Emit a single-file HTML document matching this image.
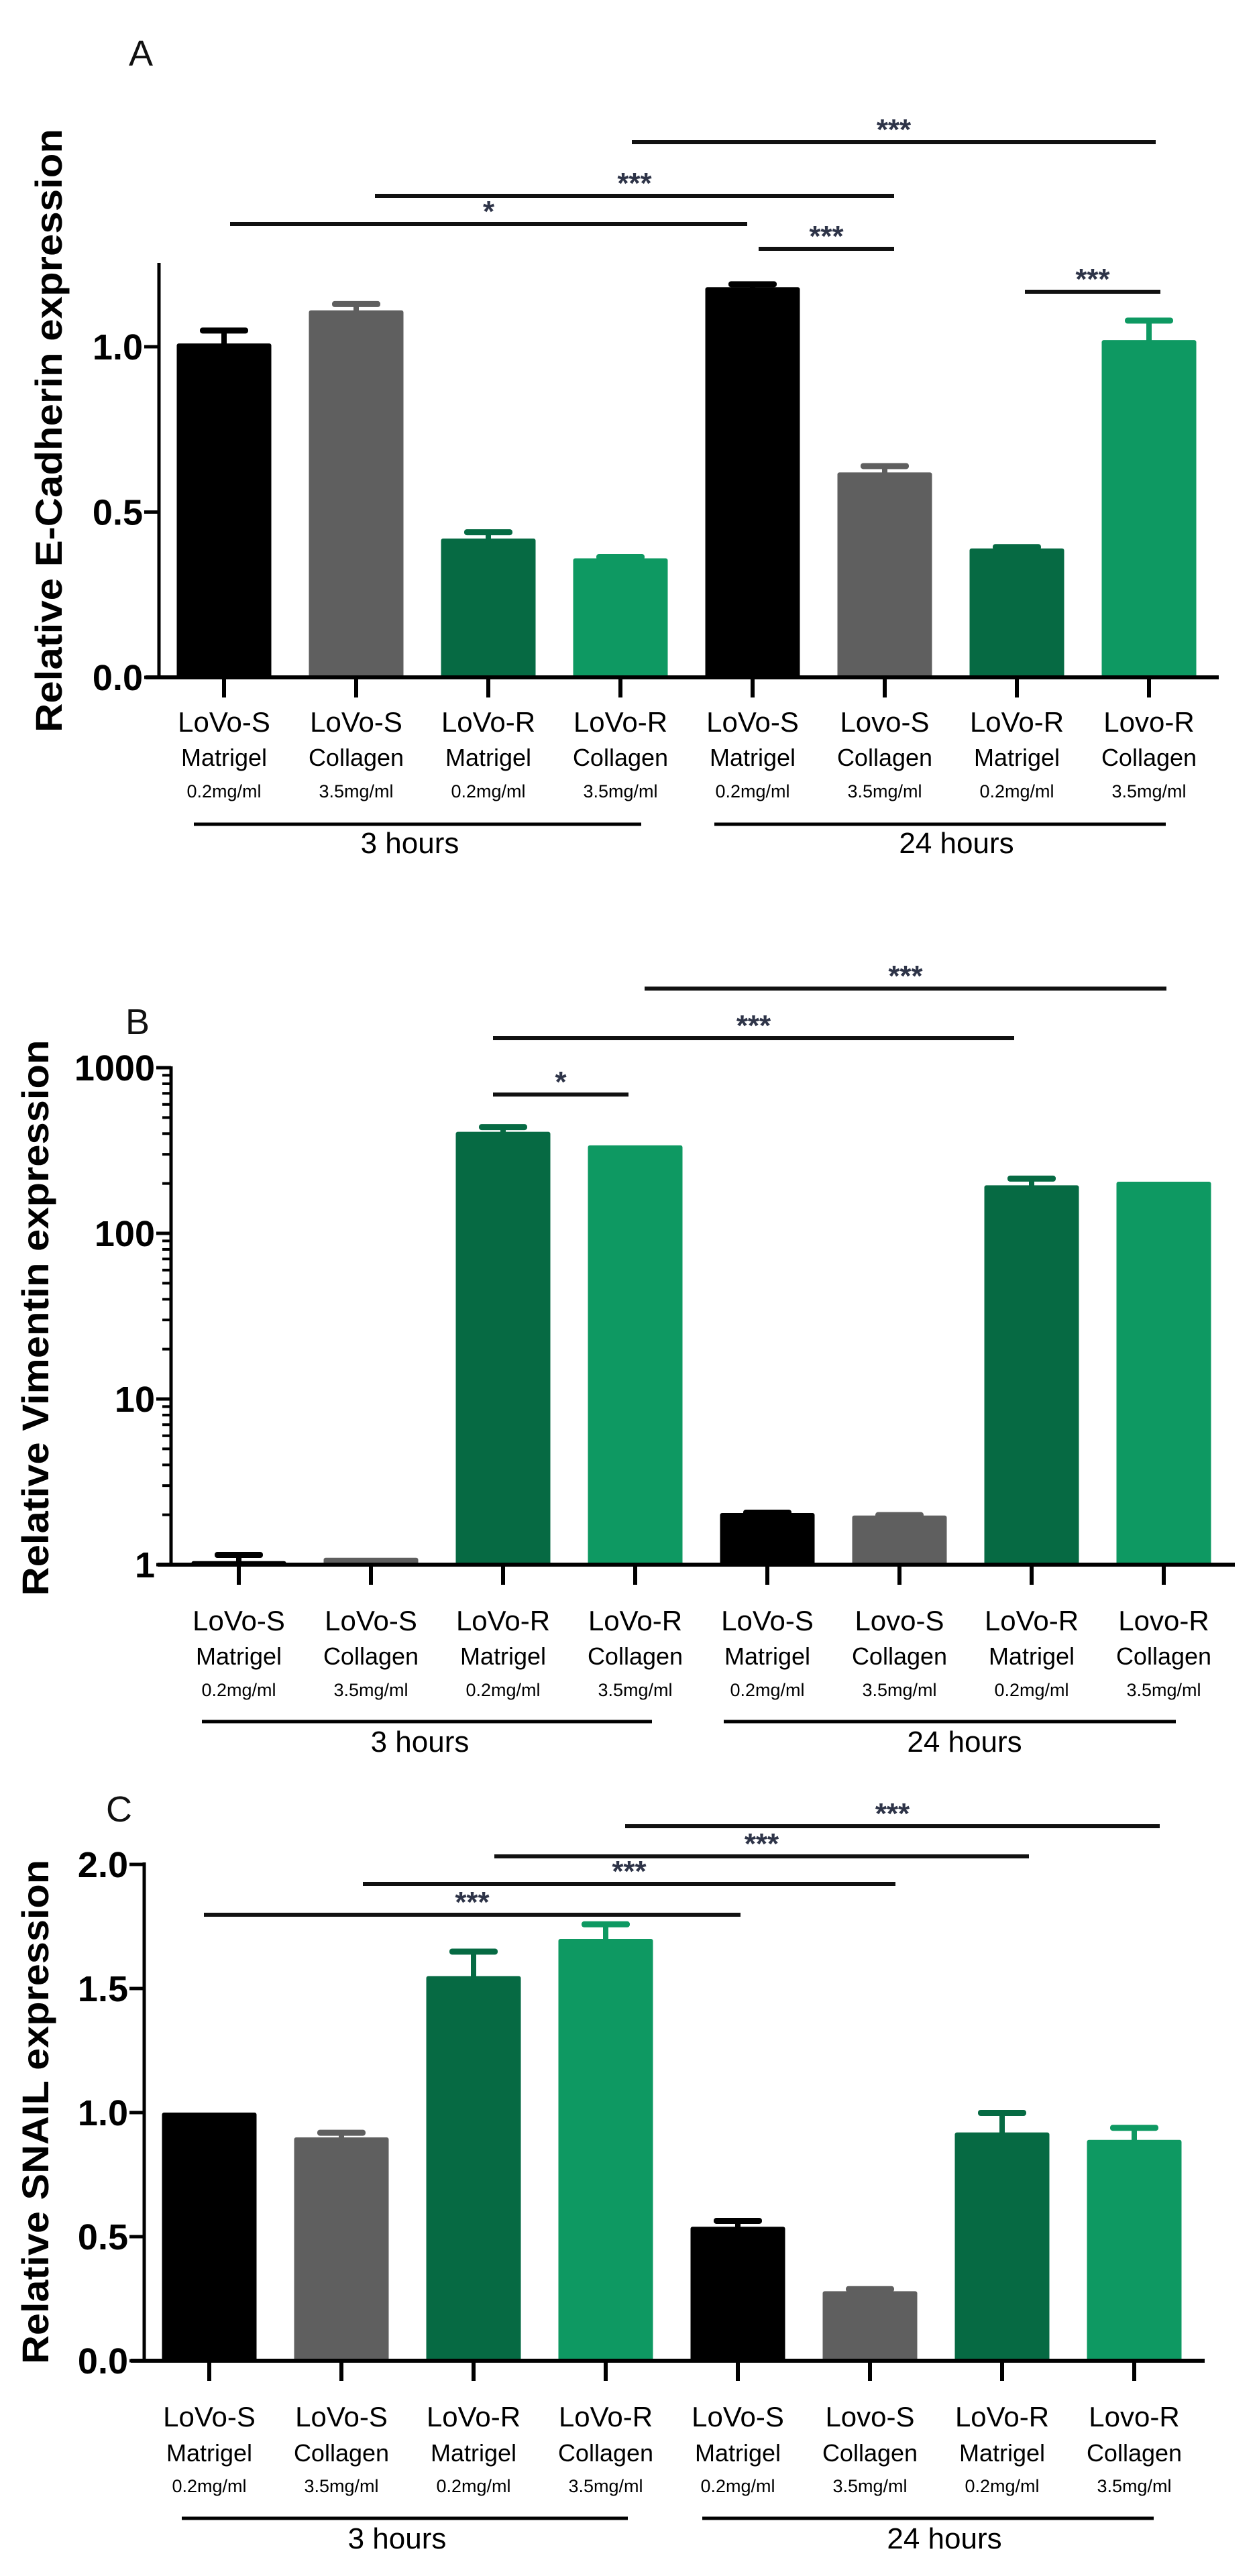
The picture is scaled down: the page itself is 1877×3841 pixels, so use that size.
<!DOCTYPE html>
<html><head><meta charset="utf-8"><style>
html,body{margin:0;padding:0;background:#fff;}
svg{display:block;}
.tk{font-family:"Liberation Sans Narrow","Liberation Sans",sans-serif;font-weight:bold;font-size:54px;}
.yt{font-family:"Liberation Sans",sans-serif;font-weight:bold;font-size:56px;}
.l1{font-family:"Liberation Sans",sans-serif;font-size:42px;}
.l2{font-family:"Liberation Sans",sans-serif;font-size:36px;}
.l3{font-family:"Liberation Sans",sans-serif;font-size:27px;}
.gl{font-family:"Liberation Sans",sans-serif;font-size:44px;}
.st{font-family:"Liberation Sans",sans-serif;font-weight:bold;font-size:44px;fill:#2e3448;}
.pl{font-family:"Liberation Sans",sans-serif;font-size:54px;fill:#111;}
</style></head><body>
<svg id="fig" width="1877" height="3841" viewBox="0 0 1877 3841" xmlns="http://www.w3.org/2000/svg"></svg>
<script>
// shared categories
const catLine1 = ["LoVo-S","LoVo-S","LoVo-R","LoVo-R","LoVo-S","Lovo-S","LoVo-R","Lovo-R"];
const catLine2 = ["Matrigel","Collagen","Matrigel","Collagen","Matrigel","Collagen","Matrigel","Collagen"];
const catLine3 = ["0.2mg/ml","3.5mg/ml","0.2mg/ml","3.5mg/ml","0.2mg/ml","3.5mg/ml","0.2mg/ml","3.5mg/ml"];
const barColors = ["#000000","#5f5f5f","#066a43","#0e9962","#000000","#5f5f5f","#066a43","#0e9962"];
// Panel A - E-Cadherin
const aValues = [1.01,1.11,0.42,0.36,1.18,0.62,0.39,1.02];
const aErrors = [0.04,0.02,0.02,0.005,0.01,0.02,0.005,0.06];
const aTicks = [0.0,0.5,1.0];
const aTickLabels = ["0.0","0.5","1.0"];
const aSig = [[4,7,"***"],[1,5,"***"],[0,4,"*"],[4,5,"***"],[6,7,"***"]];
// Panel B - Vimentin (log)
const bValues = [1.05,1.1,410,340,2.05,1.98,195,205];
const bErrors = [0.1,0.0,30,0,0.02,0.02,20,0];
const bTicks = [1,10,100,1000];
const bTickLabels = ["1","10","100","1000"];
const bSig = [[3,7,"***"],[2,6,"***"],[2,3,"*"]];
// Panel C - SNAIL
const cValues = [1.0,0.9,1.55,1.70,0.54,0.28,0.92,0.89];
const cErrors = [0.0,0.02,0.10,0.06,0.025,0.01,0.08,0.05];
const cTicks = [0.0,0.5,1.0,1.5,2.0];
const cTickLabels = ["0.0","0.5","1.0","1.5","2.0"];
const cSig = [[3,7,"***"],[2,6,"***"],[1,5,"***"],[0,4,"***"]];

const NS="http://www.w3.org/2000/svg";
const svg=document.getElementById('fig');
function mk(tag,attrs,parent,txt){const e=document.createElementNS(NS,tag);for(const k in attrs)e.setAttribute(k,attrs[k]);if(txt!==undefined)e.textContent=txt;(parent||svg).appendChild(e);return e;}

function panel(cfg){
  const g=mk('g',{});
  
  
  const yScale=cfg.log?(v=>cfg.y0-(Math.log10(v))*cfg.unit):(v=>cfg.y0-v*cfg.unit);
  const xC=i=>cfg.x0+i*cfg.step;
  const pl=mk('text',{x:cfg.letter[0],y:cfg.letter[1],class:'pl'},g,cfg.letterText);
  
  
  cfg.values.forEach((v,i)=>{
    const x=xC(i), y=yScale(v), w=141;
    const top=yScale(v+cfg.errors[i]);
    if(cfg.errors[i]>0){
      const st=mk('rect',{x:x-4,y:top,width:8,height:y-top+2,fill:barColors[i]},g);
      
      
      const cap=mk('rect',{x:x-36,y:top-4,width:72,height:9,rx:4,fill:barColors[i]},g);
      
      
    }
    const b=mk('rect',{x:x-w/2,y:y,width:w,height:cfg.y0-y,rx:3,fill:barColors[i]},g);
    
    
    const t=mk('line',{x1:x,x2:x,y1:cfg.y0,y2:cfg.y0+30,stroke:'#000','stroke-width':6},g);
    
    
    const l1=mk('text',{x:x,y:cfg.lab[0],class:'l1','text-anchor':'middle'},g,catLine1[i]);
    
    
    const l2=mk('text',{x:x,y:cfg.lab[1],class:'l2','text-anchor':'middle'},g,catLine2[i]);
    
    
    const l3=mk('text',{x:x,y:cfg.lab[2],class:'l3','text-anchor':'middle'},g,catLine3[i]);
    
    
  });
  const ya=mk('line',{x1:cfg.ax,x2:cfg.ax,y1:cfg.top,y2:cfg.y0+2,stroke:'#000','stroke-width':5},g);
  
  
  const xa=mk('line',{x1:cfg.ax-20,x2:cfg.right,y1:cfg.y0,y2:cfg.y0,stroke:'#000','stroke-width':6},g);
  
  
  cfg.ticks.forEach((tv,k)=>{
    const y=yScale(tv);
    const tl=mk('line',{x1:cfg.ax-22,x2:cfg.ax,y1:y,y2:y,stroke:'#000','stroke-width':5},g);
    
    
    const tx=mk('text',{x:cfg.ax-24,y:y+19,class:'tk','text-anchor':'end'},g,cfg.tickLabels[k]);
    
    
    if(cfg.log && k<cfg.ticks.length-1){
      for(let m=2;m<=9;m++){
        const ym=yScale(tv*m);
        const mt=mk('line',{x1:cfg.ax-13,x2:cfg.ax,y1:ym,y2:ym,stroke:'#000','stroke-width':4},g);
        
        
      }
    }
  });
  const yt=mk('text',{x:0,y:0,class:'yt','text-anchor':'middle',transform:`translate(${cfg.title[0]},${cfg.title[1]}) rotate(-90)`,textLength:cfg.title[2],lengthAdjust:'spacingAndGlyphs'},g,cfg.titleText);
  
  
  cfg.sig.forEach((s,k)=>{
    const y=cfg.sigY[k];
    const x1=xC(s[0])+cfg.sigOff[k][0], x2=xC(s[1])+cfg.sigOff[k][1];
    const ln=mk('line',{x1:x1,x2:x2,y1:y,y2:y,stroke:'#111','stroke-width':6},g);
    
    
    const st=mk('text',{x:(x1+x2)/2,y:y-4,class:'st','text-anchor':'middle'},g,s[2]);
    
    
  });
  cfg.groups.forEach((gr,k)=>{
    const gl=mk('line',{x1:gr[0],x2:gr[1],y1:cfg.lab[3],y2:cfg.lab[3],stroke:'#000','stroke-width':5},g);
    
    
    const gt=mk('text',{x:gr[2],y:cfg.lab[4],class:'gl','text-anchor':'middle'},g,k===0?'3 hours':'24 hours');
    
    
  });
}

panel({name:'panel-a-ecadherin',letterText:'A',letter:[192,98],values:aValues,errors:aErrors,ticks:aTicks,tickLabels:aTickLabels,sig:aSig,
  log:false,x0:334,step:197,y0:1010,unit:493,ax:237,top:392,right:1817,
  lab:[1091,1142,1189,1229,1272],title:[92,642,900],titleText:'Relative E-Cadherin expression',
  sigY:[212,292,334,371,435],sigOff:[[-180,10],[28,14],[9,-8],[9,14],[12,17]],
  groups:[[289,956,611],[1065,1738,1426]]});

panel({name:'panel-b-vimentin',letterText:'B',letter:[187,1542],values:bValues,errors:bErrors,ticks:bTicks,tickLabels:bTickLabels,sig:bSig,
  log:true,x0:356,step:197,y0:2333,unit:247,ax:255,top:1590,right:1841,
  lab:[2431,2482,2529,2567,2612],title:[72,1965,829],titleText:'Relative Vimentin expression',
  sigY:[1474,1548,1632],sigOff:[[14,4],[-15,-26],[-15,-10]],
  groups:[[301,972,626],[1079,1753,1438]]});

panel({name:'panel-c-snail',letterText:'C',letter:[158,2716],values:cValues,errors:cErrors,ticks:cTicks,tickLabels:cTickLabels,sig:cSig,
  log:false,x0:312,step:197,y0:3520,unit:370,ax:215,top:2777,right:1796,
  lab:[3618,3670,3716,3755,3800],title:[72,3149,752],titleText:'Relative SNAIL expression',
  sigY:[2723,2768,2809,2855],sigOff:[[29,38],[31,40],[32,38],[-8,4]],
  groups:[[271,936,592],[1047,1720,1408]]});
</script>
</body></html>
